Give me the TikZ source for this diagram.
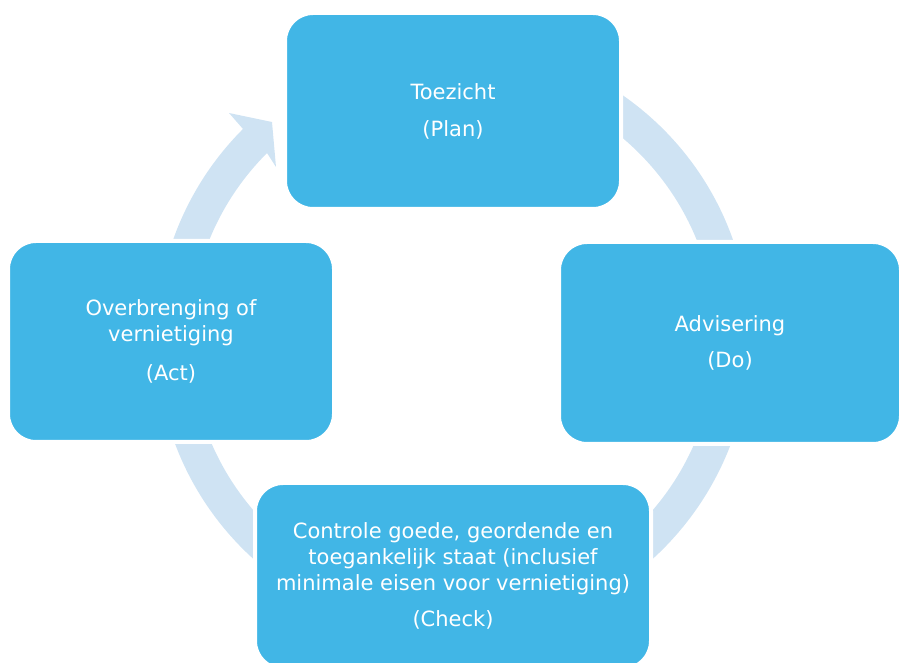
\documentclass[tikz,border=0pt]{standalone}
\usepackage{fontspec}
\setmainfont{DejaVu Sans}
\usetikzlibrary{calc}
\definecolor{boxblue}{RGB}{65,182,230}
\definecolor{ringblue}{RGB}{207,227,243}

\begin{document}
\begin{tikzpicture}
    [
      x=1pt, y=1pt,
      phase/.style={rectangle,rounded corners=28pt,fill=boxblue,draw=white,line width=4pt,
        text=white,align=center,inner sep=0pt,font=\fontsize{21}{26}\selectfont},
      ring/.style={fill=ringblue},
    ]

    \useasboundingbox (0,0) rectangle (900,662);
    \coordinate (c) at (453,323);

    % cycle arrow, drawn behind the boxes
    \fill [ring] ($(c)+(100:297)$) arc [start angle=100, end angle=-225, radius=297]
      -- (229,549) -- (272,540) -- (276,495)
      -- ($(c)+(135:263)$) arc [start angle=-225, end angle=100, radius=263] -- cycle;

    \node (plan) [phase, minimum width=336pt, minimum height=196pt] at (453,551)
      {Toezicht\\[11pt](Plan)};
    \node (do) [phase, minimum width=342pt, minimum height=202pt] at (730,319)
      {Advisering\\[10pt](Do)};
    \node (check) [phase, minimum width=396pt, minimum height=186pt] at (453,86)
      {Controle goede, geordende en\\toegankelijk staat (inclusief\\minimale eisen voor vernietiging)\\[10pt](Check)};
    \node (act) [phase, minimum width=326pt, minimum height=201pt] at (171,320.5)
      {Overbrenging of\\vernietiging\\[13pt](Act)};

  \end{tikzpicture}
\end{document}
